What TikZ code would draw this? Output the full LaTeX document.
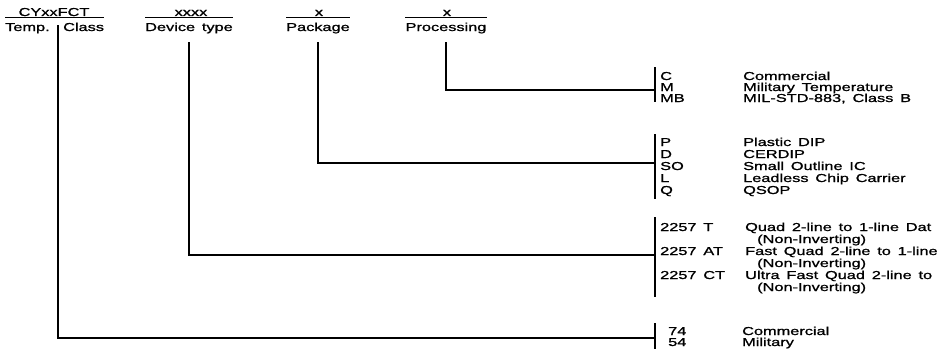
\documentclass[tikz,border=0pt]{standalone}
\usepackage{fontspec}
\setmainfont{Liberation Sans}[FakeStretch=1.42,WordSpace=1.5,FakeBold=1.2]
\usetikzlibrary{positioning}
\newcommand{\partfont}{\fontsize{11.5}{12}\selectfont}

\begin{document}
\begin{tikzpicture}[x=1pt,y=-1pt]
 \tikzset{code/.style={anchor=base west,inner sep=0pt,font=\partfont},
          head/.style={anchor=base,inner sep=0pt,font=\partfont},
          link/.style={line width=1.1pt},
          drop/.style={link,shorten <=8.5pt}}
 \useasboundingbox (0,0) rectangle (952,356);

 % part number fields
 \node[head] (cy) at (54,16) {CYxxFCT};
 \node[code] (temp) at (5,31) {Temp.};
 \node[code] (cls) at (63,31) {Class};
 \node[head] (xd) at (191,16) {xxxx};
 \node[head] (dev) at (189,31) {Device type};
 \node[head] (xp) at (319,16) {x};
 \node[head] (pkg) at (318,31) {Package};
 \node[head] (xq) at (447,16) {x};
 \node[head] (proc) at (446,31) {Processing};

 \draw[link] ([yshift=-1.5pt]temp.west |- cy.base) -- ([yshift=-1.5pt]cls.east |- cy.base);
 \draw[link] ([yshift=-1.5pt]dev.west |- xd.base) -- ([yshift=-1.5pt]dev.east |- xd.base);
 \draw[link] ([yshift=-1.5pt]pkg.west |- xp.base) -- ([yshift=-1.5pt]pkg.east |- xp.base);
 \draw[link] ([yshift=-1.5pt]proc.west |- xq.base) -- ([yshift=-1.5pt]proc.east |- xq.base);

 % processing
 \node[code] (procC) at (660,80) {C};
 \node[code] (procM) at (660,91) {M};
 \node[code] (procMB) at (660,102) {MB};
 \node[code] (procCd) at (743,80) {Commercial};
 \node[code] (procMd) at (743,91) {Military Temperature};
 \node[code] (procMBd) at (743,102) {MIL-STD-883, Class B};

 % package
 \node[code] (pkgP) at (660,146) {P};
 \node[code] (pkgD) at (660,158) {D};
 \node[code] (pkgSO) at (660,170) {SO};
 \node[code] (pkgL) at (660,182) {L};
 \node[code] (pkgQ) at (660,194) {Q};
 \node[code] (pkgPd) at (743,146) {Plastic DIP};
 \node[code] (pkgDd) at (743,158) {CERDIP};
 \node[code] (pkgSOd) at (743,170) {Small Outline IC};
 \node[code] (pkgLd) at (743,182) {Leadless Chip Carrier};
 \node[code] (pkgQd) at (743,194) {QSOP};

 % device type
 \node[code] (devT) at (660,231) {2257 T};
 \node[code] (devAT) at (660,255) {2257 AT};
 \node[code] (devCT) at (660,279) {2257 CT};
 \node[code] (devTd) at (745,231) {Quad 2-line to 1-line Dat};
 \node[code] (devTn) at (757,243) {(Non-Inverting)};
 \node[code] (devATd) at (745,255) {Fast Quad 2-line to 1-line};
 \node[code] (devATn) at (757,267) {(Non-Inverting)};
 \node[code] (devCTd) at (745,279) {Ultra Fast Quad 2-line to};
 \node[code] (devCTn) at (757,291) {(Non-Inverting)};

 % temperature class
 \node[code] (tmp74) at (668,335) {74};
 \node[code] (tmp54) at (668,346) {54};
 \node[code] (tmp74d) at (742,335) {Commercial};
 \node[code] (tmp54d) at (742,346) {Military};

 % brackets
 \coordinate (procIn) at (655,90);
 \coordinate (procTop) at (655,67);
 \coordinate (procBot) at (655,102);
 \coordinate (pkgIn) at (655,163);
 \coordinate (pkgTop) at (655,134);
 \coordinate (pkgBot) at (655,199);
 \coordinate (devIn) at (655,255);
 \coordinate (devTop) at (655,217);
 \coordinate (devBot) at (655,297);
 \coordinate (tmpIn) at (655,338);
 \coordinate (tmpTop) at (655,323);
 \coordinate (tmpBot) at (655,349);
 \coordinate (tcut) at (58,25);

 \draw[drop] (proc.south) |- (procIn);
 \draw[drop] (pkg.south) |- (pkgIn);
 \draw[drop] (dev.south) |- (devIn);
 \draw[link] (tcut) |- (tmpIn);
 \draw[link] (procTop) -- (procBot);
 \draw[link] (pkgTop) -- (pkgBot);
 \draw[link] (devTop) -- (devBot);
 \draw[link] (tmpTop) -- (tmpBot);
\end{tikzpicture}
\end{document}
